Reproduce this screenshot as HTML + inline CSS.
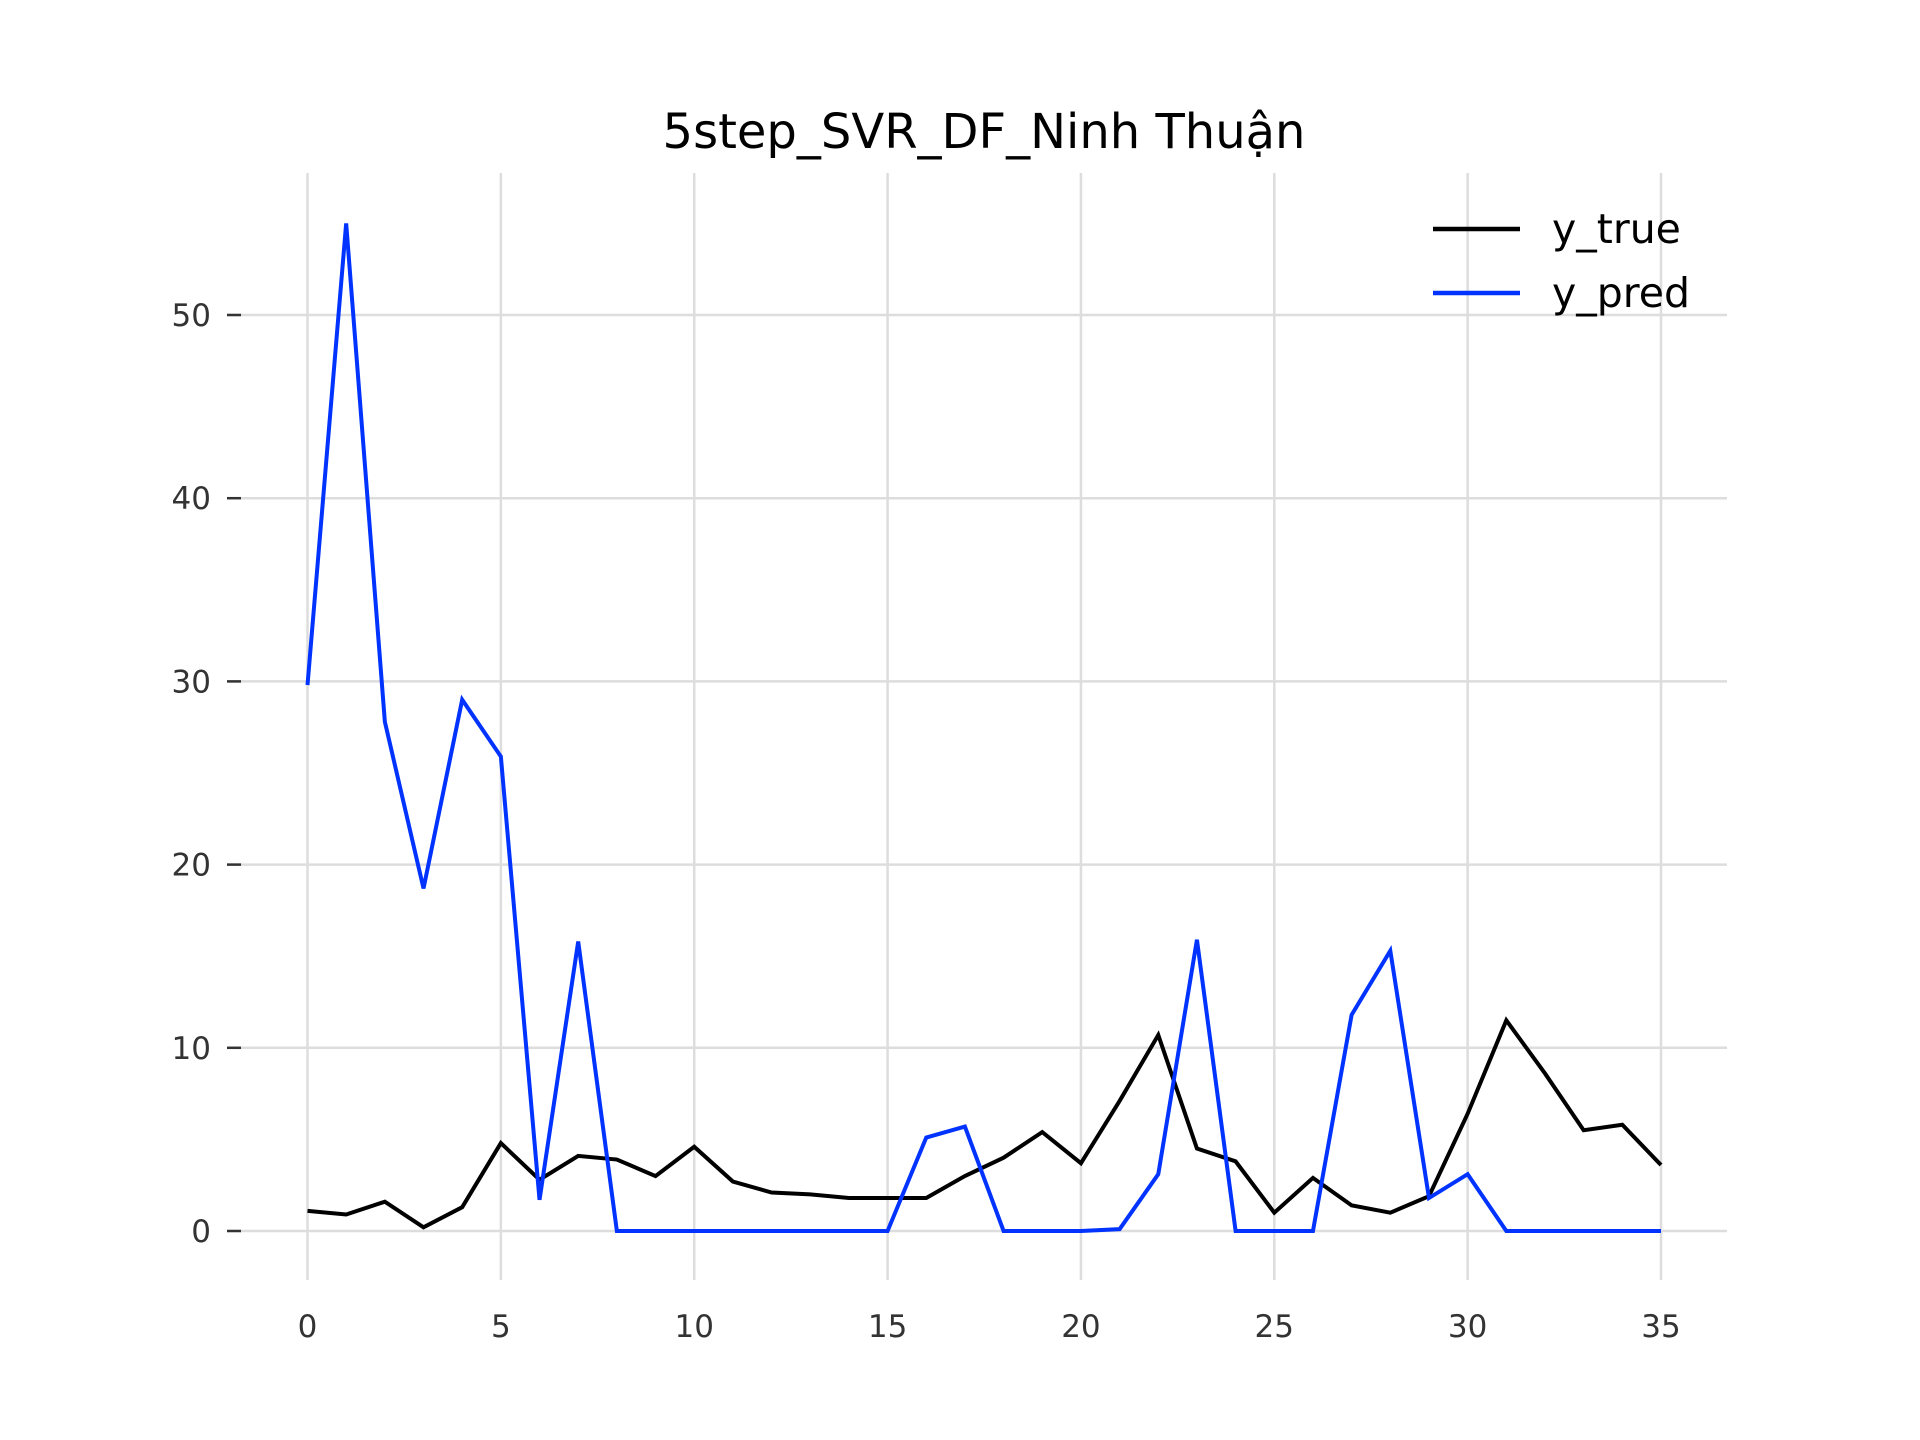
<!DOCTYPE html>
<html><head><meta charset="utf-8"><style>
html,body{margin:0;padding:0;background:#fff;}
svg{display:block;font-family:"DejaVu Sans","Liberation Sans",sans-serif;}
</style></head><body>
<svg id="chart" width="1920" height="1440" viewBox="0 0 1920 1440">
<text x="984" y="148" text-anchor="middle" font-size="48" fill="#000">5step_SVR_DF_Ninh Thuận</text>
<g id="grid"></g>
<g id="axes"></g>
<g id="series"></g>
<g>
<line x1="1433" y1="229" x2="1520" y2="229" stroke="#000" stroke-width="4.5"/>
<text x="1552" y="243" font-size="41" fill="#000">y_true</text>
<line x1="1433" y1="293" x2="1520" y2="293" stroke="#0033ff" stroke-width="4.5"/>
<text x="1552" y="307" font-size="41" fill="#000">y_pred</text>
</g>
</svg>
<script>
const xTicks=[0,5,10,15,20,25,30,35];
const yTicks=[0,10,20,30,40,50];
const yTrue=[1.1,0.9,1.6,0.2,1.3,4.8,2.8,4.1,3.9,3.0,4.6,2.7,2.1,2.0,1.8,1.8,1.8,3.0,4.0,5.4,3.7,7.1,10.7,4.5,3.8,1.0,2.9,1.4,1.0,1.9,6.4,11.5,8.6,5.5,5.8,3.6];
const yPred=[29.8,55,27.8,18.7,29,25.9,1.7,15.8,0,0,0,0,0,0,0,0,5.1,5.7,0,0,0,0.1,3.1,15.9,0,0,0,11.8,15.3,1.8,3.1,0,0,0,0,0];
const NS="http://www.w3.org/2000/svg";
const xs=v=>307.5+v*(1661-307.5)/35;
const ys=v=>1231-v*(1231-315)/50;
function mk(tag,attrs,parent){const e=document.createElementNS(NS,tag);for(const k in attrs)e.setAttribute(k,attrs[k]);parent.appendChild(e);return e;}
const grid=document.getElementById('grid'),axes=document.getElementById('axes'),series=document.getElementById('series');
xTicks.forEach(t=>{
 const l=mk('line',{x1:xs(t),x2:xs(t),y1:173,y2:1280,stroke:'#dddddd','stroke-width':2.5},grid);
 
 
 const tx=mk('text',{x:xs(t),y:1337,'text-anchor':'middle','font-size':31,fill:'#333'},axes);
 tx.textContent=t;
 
 
});
yTicks.forEach(t=>{
 const l=mk('line',{x1:227,x2:1727,y1:ys(t),y2:ys(t),stroke:'#dddddd','stroke-width':2.5},grid);
 
 
 const tk=mk('line',{x1:227,x2:241,y1:ys(t),y2:ys(t),stroke:'#333','stroke-width':2.5},axes);
 
 
 const tx=mk('text',{x:211,y:ys(t)+11,'text-anchor':'end','font-size':31,fill:'#333'},axes);
 tx.textContent=t;
 
 
});
function line(data,color,name){
 const p=mk('polyline',{points:data.map((v,i)=>xs(i)+','+ys(v)).join(' '),fill:'none',stroke:color,'stroke-width':4,'stroke-linejoin':'miter'},series);
 
 
}
line(yTrue,'#000000','y-true-line');
line(yPred,'#0033ff','y-pred-line');
</script>
</body></html>
